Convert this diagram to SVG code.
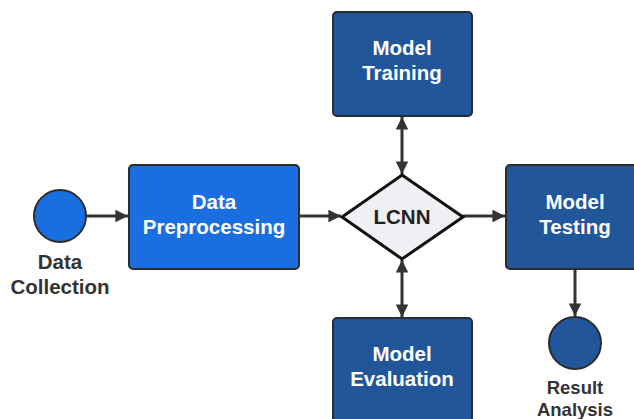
<svg xmlns="http://www.w3.org/2000/svg" width="634" height="419" viewBox="0 0 634 419">
  <defs>
    <marker id="arrow" viewBox="0 0 10 10" refX="10" refY="5" markerWidth="4.2" markerHeight="4.2" orient="auto-start-reverse" markerUnits="strokeWidth">
      <path d="M0,0 L10,5 L0,10 Z" fill="#333333"/>
    </marker>
  </defs>
  <style>
    .box { stroke: #2b2b2b; stroke-width: 2; }
    .dark { fill: #22569b; }
    .bright { fill: #1a6fe0; }
    .in { font-family: "Liberation Sans", Arial, sans-serif; font-weight: bold; font-size: 20.5px; fill: #ffffff; text-anchor: middle; }
    .out { font-family: "Liberation Sans", Arial, sans-serif; font-weight: bold; font-size: 20.5px; fill: #333333; text-anchor: middle; }
    .small { font-size: 18.5px; }
    .edge { stroke: #333333; stroke-width: 3; fill: none; }
  </style>
  <rect width="634" height="419" fill="#ffffff"/>

  <g id="connectors">
    <line class="edge" x1="86" y1="216" x2="128" y2="216" marker-end="url(#arrow)"/>
    <line class="edge" x1="299" y1="216" x2="341" y2="216" marker-end="url(#arrow)"/>
    <line class="edge" x1="463" y1="216" x2="505" y2="216" marker-end="url(#arrow)"/>
    <line class="edge" x1="575" y1="269" x2="575" y2="316" marker-end="url(#arrow)"/>
    <line class="edge" x1="402" y1="117" x2="402" y2="174" marker-start="url(#arrow)" marker-end="url(#arrow)"/>
    <line class="edge" x1="402" y1="260" x2="402" y2="317" marker-start="url(#arrow)" marker-end="url(#arrow)"/>
  </g>

  <g id="data-collection">
    <circle class="box bright" cx="60" cy="216" r="26"/>
    <text class="out" x="60" y="269">Data</text>
    <text class="out" x="60" y="294">Collection</text>
  </g>

  <g id="data-preprocessing">
    <rect class="box bright" x="129" y="165" width="170" height="104" rx="4"/>
    <text class="in" x="214" y="209">Data</text>
    <text class="in" x="214" y="234">Preprocessing</text>
  </g>

  <g id="lcnn">
    <polygon points="402,175 463,217 402,259 342,217" fill="#eef0f3" stroke="#111111" stroke-width="3" stroke-linejoin="miter"/>
    <text class="out" x="402" y="224" style="fill:#222222">LCNN</text>
  </g>

  <g id="model-training">
    <rect class="box dark" x="333" y="12" width="139" height="104" rx="4"/>
    <text class="in" x="402" y="55">Model</text>
    <text class="in" x="402" y="80">Training</text>
  </g>

  <g id="model-testing">
    <rect class="box dark" x="506" y="165" width="139" height="104" rx="4"/>
    <text class="in" x="575" y="209">Model</text>
    <text class="in" x="575" y="234">Testing</text>
  </g>

  <g id="model-evaluation">
    <rect class="box dark" x="333" y="318" width="139" height="104" rx="4"/>
    <text class="in" x="402" y="361">Model</text>
    <text class="in" x="402" y="386">Evaluation</text>
  </g>

  <g id="result-analysis">
    <circle class="box dark" cx="575" cy="343" r="26"/>
    <text class="out small" x="575" y="394">Result</text>
    <text class="out small" x="575" y="416">Analysis</text>
  </g>
</svg>
